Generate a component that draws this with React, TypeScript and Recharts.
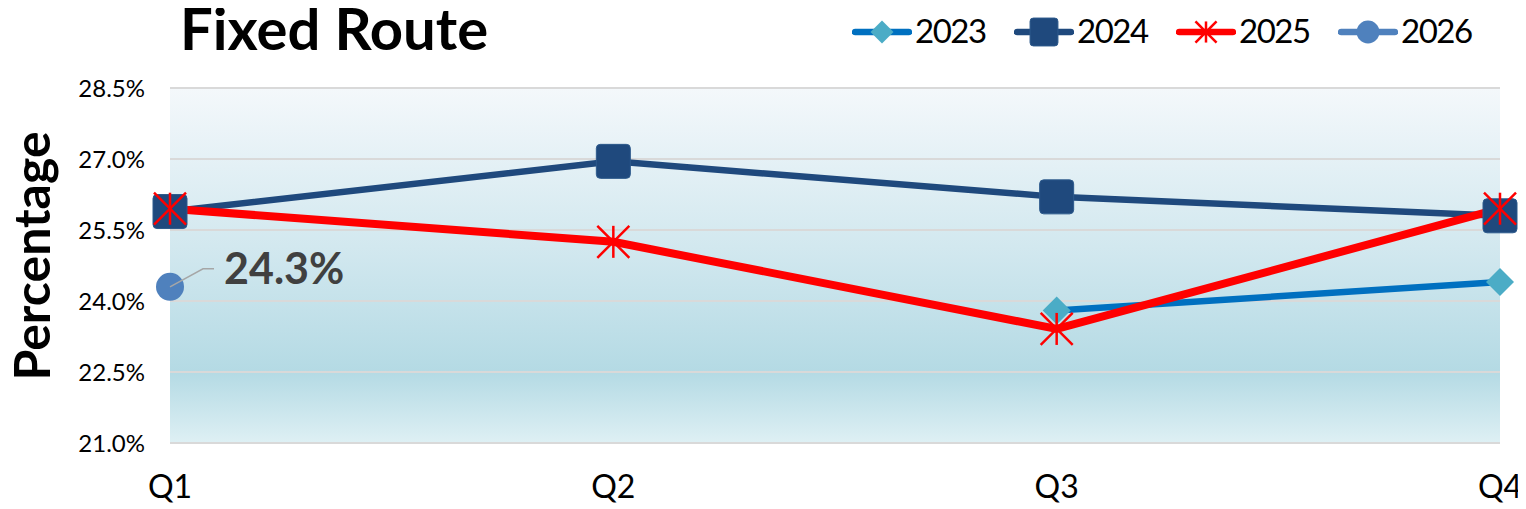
import React from 'react';
import { LineChart, Line, CartesianGrid, XAxis, YAxis, Legend, Label } from 'recharts';

const quarters = ['Q1', 'Q2', 'Q3', 'Q4'];
const y2023 = [null, null, 23.8, 24.4];
const y2024 = [25.89, 26.95, 26.2, 25.8];
const y2025 = [25.95, 25.25, 23.41, 25.95];
const y2026 = [24.3, null, null, null];
const yTicks = [21, 22.5, 24, 25.5, 27, 28.5];

const data = quarters.map((q, i) => ({
  q,
  '2023': y2023[i],
  '2024': y2024[i],
  '2025': y2025[i],
  '2026': y2026[i],
}));

type Kind = 'diamond' | 'square' | 'star' | 'circle';

const series: { key: string; color: string; width: number; marker: Kind }[] = [
  { key: '2023', color: '#0070c0', width: 6.5, marker: 'diamond' },
  { key: '2024', color: '#1f497d', width: 6.5, marker: 'square' },
  { key: '2025', color: '#ff0000', width: 8, marker: 'star' },
  { key: '2026', color: '#4f81bd', width: 6, marker: 'circle' },
];

const FONT = 'Lato, "Noto Sans", sans-serif';

function marker(kind: Kind, cx: number, cy: number, s: number, key?: string) {
  if (kind === 'diamond') {
    const h = 14 * s;
    return <path key={key} d={`M${cx},${cy - h}L${cx + h},${cy}L${cx},${cy + h}L${cx - h},${cy}Z`} fill="#4bacc6" />;
  }
  if (kind === 'square') {
    const h = 17 * s;
    return (
      <rect key={key} x={cx - h} y={cy - h} width={h * 2} height={h * 2} rx={4 * s}
        fill="#1f497d" stroke="#2d5a8c" strokeWidth={1} />
    );
  }
  if (kind === 'star') {
    const h = 16 * s;
    return (
      <g key={key} stroke="#ff0000" strokeWidth={2.5}>
        <line x1={cx} y1={cy - h} x2={cx} y2={cy + h} />
        <line x1={cx - h} y1={cy - h} x2={cx + h} y2={cy + h} />
        <line x1={cx - h} y1={cy + h} x2={cx + h} y2={cy - h} />
      </g>
    );
  }
  return <circle key={key} cx={cx} cy={cy} r={14 * s} fill="#4f81bd" />;
}

const dotFor = (kind: Kind) => (p: any) => {
  if (p.cx == null || p.cy == null || p.value == null) return <g key={`e-${p.index}`} />;
  return marker(kind, p.cx, p.cy, 1, `d-${p.index}`);
};

function renderLegend({ payload }: any) {
  return (
    <div style={{ display: 'flex', alignItems: 'center', height: 40 }}>
      {(payload || []).map((entry: any) => {
        const s = series.find((x) => x.key === entry.dataKey || x.key === entry.value);
        if (!s) return null;
        return (
          <div key={s.key} style={{ display: 'flex', alignItems: 'center', width: 162 }}>
            <svg width={60} height={40}>
              <line x1={3} y1={22} x2={57} y2={22} stroke={s.color} strokeWidth={6.5} strokeLinecap="round" />
              {marker(s.marker, 30, 22, s.marker === 'star' ? 0.66 : 0.82)}
            </svg>
            <span style={{ fontFamily: FONT, fontSize: 33, letterSpacing: -1.5, color: '#000', marginLeft: 3, lineHeight: '40px' }}>
              {s.key}
            </span>
          </div>
        );
      })}
    </div>
  );
}

function renderValueLabel(p: any) {
  const { x, y, value, index } = p;
  if (value == null || x == null) return <g key={`l-${index}`} />;
  return (
    <g key={`l-${index}`}>
      <polyline points={`${x},${y} ${x + 33},${y - 18} ${x + 44},${y - 18}`} fill="none" stroke="#a6a6a6" strokeWidth={1.5} />
      <text x={x + 54} y={y - 3} fontFamily={FONT} fontWeight={700} fontSize={43} fill="#404040">
        {`${Number(value).toFixed(1)}%`}
      </text>
    </g>
  );
}

export default function App() {
  return (
    <div style={{ position: 'relative', width: 1518, height: 501 }}>
      <svg width={600} height={72} style={{ position: 'absolute', left: 0, top: -8, zIndex: 2 }}>
        <text x={172} y={50} fontFamily={FONT} fontWeight={700} fontSize={58} fill="#000">
          Fixed Route
        </text>
      </svg>
      <LineChart width={1518} height={501} data={data} margin={{ top: 40, right: 26, left: 0, bottom: 6 }}>
        <defs>
          <linearGradient id="plotBg" x1="0" y1="0" x2="0" y2="1">
            <stop offset="0%" stopColor="#f4f8fb" />
            <stop offset="45%" stopColor="#d2e8ef" />
            <stop offset="80%" stopColor="#b4dae4" />
            <stop offset="100%" stopColor="#def0f4" />
          </linearGradient>
        </defs>
        <CartesianGrid vertical={false} stroke="#d9d9d9" strokeWidth={2} fill="url(#plotBg)" />
        <XAxis
          dataKey="q"
          height={60}
          axisLine={false}
          tickLine={false}
          tickMargin={26}
          tick={{ fontFamily: FONT, fontSize: 32, fill: '#000' }}
        />
        <YAxis
          width={162}
          domain={[21, 28.5]}
          ticks={yTicks}
          axisLine={false}
          tickLine={false}
          tickMargin={19}
          tickFormatter={(v: number) => `${v.toFixed(1)}%`}
          tick={{ fontFamily: FONT, fontSize: 24, fill: '#000' }}
        >
          <Label
            content={() => (
              <text
                x={42}
                y={248}
                transform="rotate(-90 42 248)"
                textAnchor="middle"
                fontFamily={FONT}
                fontWeight={700}
                fontSize={50}
                fill="#000"
              >
                Percentage
              </text>
            )}
          />
        </YAxis>
        <Legend
          verticalAlign="top"
          content={renderLegend}
          wrapperStyle={{ left: 844, top: 2, width: 660, height: 40 }}
        />
        {series.map((s) => (
          <Line
            key={s.key}
            dataKey={s.key}
            stroke={s.color}
            strokeWidth={s.width}
            dot={dotFor(s.marker)}
            activeDot={false}
            isAnimationActive={false}
            connectNulls={false}
            label={s.key === '2026' ? renderValueLabel : undefined}
          />
        ))}
      </LineChart>
    </div>
  );
}
